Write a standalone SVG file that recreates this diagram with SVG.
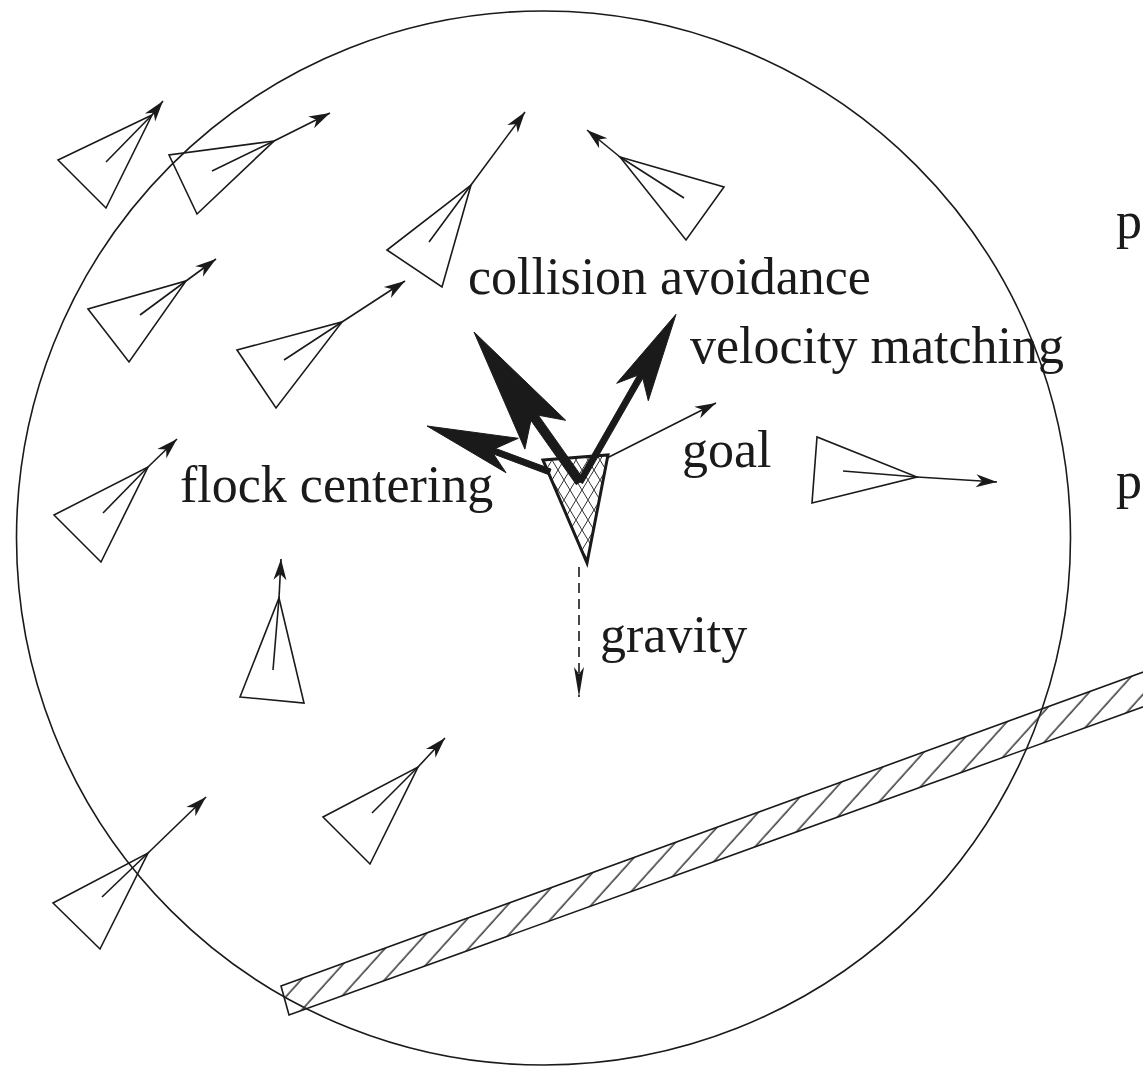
<svg xmlns="http://www.w3.org/2000/svg" width="1143" height="1066" viewBox="0 0 1143 1066">
<style>
.ln{fill:none;stroke:#1a1a1a;stroke-width:1.6;stroke-linejoin:miter}
.vel{fill:none;stroke:#1a1a1a;stroke-width:1.6;marker-end:url(#ah)}
.lbl{font-family:"Liberation Serif","Times New Roman",serif;font-size:52px;fill:#1a1a1a}
.force{fill:#1a1a1a;stroke:#1a1a1a;stroke-width:1;stroke-linejoin:miter}
</style>
<defs>
<marker id="ah" markerUnits="userSpaceOnUse" viewBox="-23 -8 24 16" markerWidth="24" markerHeight="16" refX="0" refY="0" orient="auto">
<path d="M0,0 L-21,-6.5 L-15,0 L-21,6.5 Z" fill="#1a1a1a"/>
</marker>
<marker id="ahg" markerUnits="userSpaceOnUse" viewBox="-32 -7 33 14" markerWidth="33" markerHeight="14" refX="0" refY="0" orient="auto">
<path d="M0,0 L-30,-5 L-23,0 L-30,5 Z" fill="#1a1a1a"/>
</marker>
<pattern id="barHatch" patternUnits="userSpaceOnUse" width="20.7" height="40" patternTransform="rotate(42)">
<line x1="10" y1="-2" x2="10" y2="42" stroke="#333" stroke-width="1.5"/>
</pattern>
<pattern id="xhatch" patternUnits="userSpaceOnUse" width="12" height="20">
<path d="M0,0 L12,20 M12,0 L0,20" stroke="#1a1a1a" stroke-width="0.9" fill="none"/>
</pattern>
</defs>

<g id="neighbourhood">
<circle cx="543.5" cy="538" r="527" fill="none" stroke="#1a1a1a" stroke-width="1.6"/>
</g>

<g id="obstacle">
<polygon points="281,986 1160,666 1160,700.8 289,1015" fill="url(#barHatch)" stroke="#1a1a1a" stroke-width="1.6"/>
</g>

<g id="boid1"><polygon class="ln" points="58,160 106,208 152,115"/><line class="ln" x1="106" y1="162" x2="152" y2="115"/><line class="vel" x1="152" y1="115" x2="163" y2="101"/></g>
<g id="boid2"><polygon class="ln" points="169,155 197,214 274,141"/><line class="ln" x1="212" y1="171" x2="274" y2="141"/><line class="vel" x1="274" y1="141" x2="330" y2="113"/></g>
<g id="boid3"><polygon class="ln" points="387,250 442,287 471,185"/><line class="ln" x1="429" y1="242" x2="471" y2="185"/><line class="vel" x1="471" y1="185" x2="525" y2="112"/></g>
<g id="boid4"><polygon class="ln" points="620,157 724,187 686,240"/><line class="ln" x1="684" y1="198" x2="620" y2="157"/><line class="vel" x1="620" y1="157" x2="587" y2="130"/></g>
<g id="boid5"><polygon class="ln" points="88,309 129,362 186,281"/><line class="ln" x1="140" y1="315" x2="186" y2="281"/><line class="vel" x1="186" y1="281" x2="216" y2="259"/></g>
<g id="boid6"><polygon class="ln" points="237,350 276,408 342,322"/><line class="ln" x1="284" y1="360" x2="342" y2="322"/><line class="vel" x1="342" y1="322" x2="405" y2="281"/></g>
<g id="boid7"><polygon class="ln" points="54,515 101,562 148,467"/><line class="ln" x1="103" y1="513" x2="148" y2="467"/><line class="vel" x1="148" y1="467" x2="177" y2="439"/></g>
<g id="boid8"><polygon class="ln" points="240,697 304,703 279,598"/><line class="ln" x1="273" y1="670" x2="279" y2="598"/><line class="vel" x1="279" y1="598" x2="281" y2="559"/></g>
<g id="boid9"><polygon class="ln" points="53,903 100,949 148,853"/><line class="ln" x1="102" y1="897" x2="148" y2="853"/><line class="vel" x1="148" y1="853" x2="206" y2="797"/></g>
<g id="boid10"><polygon class="ln" points="323,817 370,864 418,767"/><line class="ln" x1="372" y1="813" x2="418" y2="767"/><line class="vel" x1="418" y1="767" x2="445" y2="738"/></g>
<g id="boid11"><polygon class="ln" points="817,437 812,503 917,477"/><line class="ln" x1="843" y1="471" x2="917" y2="477"/><line class="vel" x1="917" y1="477" x2="997" y2="482"/></g>

<g id="central-boid">
<polygon points="543,460 608,455 587,563" fill="url(#xhatch)" stroke="#1a1a1a" stroke-width="3"/>
</g>

<g id="connectors">
<polygon id="flock-centering-arrow" class="force" points="427,426 518.3,438.3 495.5,448.4 551,469.1 548.9,474.7 493.5,454 506,472.7"/>
<polygon id="collision-avoidance-arrow" class="force" points="474,332 565.7,420.3 538.3,415.2 583.7,479.4 576.3,484.6 530.9,420.4 524.9,449.1"/>
<polygon id="velocity-matching-arrow" class="force" points="676,314.3 648.3,400.7 642.8,378.3 582.6,483.5 577.4,480.5 637.6,375.3 616.7,383.3"/>
<line id="goal-arrow" class="vel" x1="607" y1="458" x2="716" y2="403"/>
<line id="gravity-arrow" x1="579" y1="567" x2="579" y2="697" stroke="#1a1a1a" stroke-width="1.6" stroke-dasharray="10 6" marker-end="url(#ahg)"/>
</g>

<g id="labels">
<text class="lbl" x="468" y="294">collision avoidance</text>
<text class="lbl" x="690" y="363">velocity matching</text>
<text class="lbl" x="682" y="467">goal</text>
<text class="lbl" x="180" y="502">flock centering</text>
<text class="lbl" x="600" y="652">gravity</text>
<text class="lbl" x="1116" y="238">p</text>
<text class="lbl" x="1116" y="498">p</text>
</g>
</svg>
